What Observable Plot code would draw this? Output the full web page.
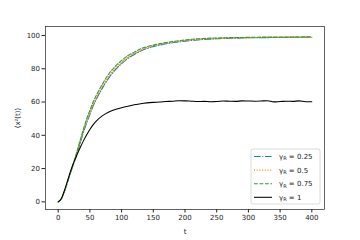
<!DOCTYPE html>
<html>
<head>
<meta charset="utf-8">
<script src="https://cdn.jsdelivr.net/npm/d3@7"></script>
<script src="https://cdn.jsdelivr.net/npm/@observablehq/plot@0.6"></script>
<style>
  html, body { margin: 0; padding: 0; background: #fff; }
  #chart svg { display: block; }
</style>
</head>
<body>
<div id="chart"></div>
<script>
const t = [0,5,10,15,20,25,30,35,40,45,50,55,60,70,80,90,100,110,120,130,140,150,160,170,180,190,200,
           210,220,230,240,250,260,270,280,290,300,310,320,330,340,350,360,370,380,390,400];
const g025 = [0,1.8,6.3,12,17.8,23.5,29,35.5,42,47.5,52.5,57.5,61.5,68.5,74.5,79.3,83,86.2,88.6,90.6,92.2,93.3,94.2,95,95.6,96.1,96.6,
              97,97.3,97.6,97.8,98,98.2,98.3,98.4,98.5,98.6,98.6,98.7,98.7,98.8,98.8,98.8,98.9,98.9,98.9,99];
const g05  = [0,1.8,6.4,12.3,18.2,24,30,36.5,43,48.5,53.5,58.5,62.5,69.5,75.5,80.3,84,87,89.3,91.2,92.7,93.8,94.7,95.4,96,96.5,97,
              97.4,97.7,97.9,98.1,98.3,98.4,98.5,98.6,98.7,98.7,98.8,98.8,98.9,98.9,99,99,99,99,99,99];
const g075 = [0,1.8,6.5,12.5,18.5,24.5,31,37.5,44,50,55,60,64,71,77,81.5,85,88,90,92,93.3,94.2,95.1,95.8,96.4,96.9,97.3,
              97.7,98,98.2,98.4,98.5,98.6,98.7,98.8,98.8,98.9,98.9,99,99,99,99.1,99.1,99.1,99.1,99.2,99.2];
const g1   = [0,2,7,13,19,24,28.6,32.8,36.8,40.3,43.5,46.3,48.5,51.8,54,55.5,56.6,57.5,58.3,59,59.5,59.8,60,60.3,60.5,60.8,60.7,
              60.5,60.3,60.4,60.2,60.3,60.6,60.5,60.4,60.7,60.6,60.5,60.6,60.8,60.1,60.3,60.5,60.4,60.7,60.2,60.2];
const seriesLabels = ["0.25", "0.5", "0.75", "1"];
const seriesValues = [g025, g05, g075, g1];
const xTicks = [0,50,100,150,200,250,300,350,400];
const yTicks = [0,20,40,60,80,100];

const colors = ["#1f77b4", "#ff7f0e", "#2ca02c", "#000000"];
const dashes = ["6.6,1.7,1,1.7", "1,1.7", "3.8,1.7", null];

const data = seriesLabels.flatMap((s, i) => t.map((tt, j) => ({t: tt, v: seriesValues[i][j], s})));

const W = 360, H = 240;
const mL = 45, mR = 36, mT = 26, mB = 31;

const chart = Plot.plot({
  width: W, height: H,
  marginLeft: mL, marginRight: mR, marginTop: mT, marginBottom: mB,
  style: {fontFamily: "DejaVu Sans", fontSize: "7px", color: "#222", background: "#fff"},
  x: {domain: [-20, 420], ticks: xTicks},
  y: {domain: [-4.6, 105.4], ticks: yTicks},
  marks: [
    ...seriesLabels.map((s, i) => Plot.line(data.filter(d => d.s === s), {
      x: "t", y: "v", stroke: colors[i], strokeWidth: 1.05,
      strokeDasharray: dashes[i] ?? undefined, curve: "monotone-x"
    })),
    Plot.frame({stroke: "#222", strokeWidth: 0.7}),
    Plot.axisX({ticks: xTicks, tickSize: 3.5, tickPadding: 2, label: "t", labelAnchor: "center", labelArrow: "none", labelOffset: 24}),
    Plot.axisY({ticks: yTicks, tickSize: 3.5, tickPadding: 2, label: "⟨x²(t)⟩", labelAnchor: "center", labelArrow: "none", labelOffset: 30})
  ]
});
document.getElementById("chart").appendChild(chart);

// Legend (lower right, inside axes)
const svg = d3.select(chart);
const lw = 69, lh = 55;
const lx = W - mR - 4 - lw, ly = H - mB - 5 - lh;
const lg = svg.append("g").attr("font-family", "DejaVu Sans").attr("font-size", 7)
  .attr("fill", "#222").attr("text-anchor", "start");
lg.append("rect").attr("x", lx).attr("y", ly).attr("width", lw).attr("height", lh)
  .attr("rx", 2).attr("fill", "#fff").attr("fill-opacity", 0.8).attr("stroke", "#ccc").attr("stroke-width", 0.7);
seriesLabels.forEach((s, i) => {
  const y = ly + 7.5 + i * 13.6;
  lg.append("line").attr("x1", lx + 3).attr("x2", lx + 21).attr("y1", y).attr("y2", y)
    .attr("stroke", colors[i]).attr("stroke-width", 1.05)
    .attr("stroke-dasharray", dashes[i]);
  const tx = lg.append("text").attr("x", lx + 28).attr("y", y).attr("dy", "0.35em")
    .attr("text-anchor", "start");
  tx.append("tspan").text("γ");
  tx.append("tspan").attr("font-size", 5).attr("dy", "1.5").text("R");
  tx.append("tspan").attr("dy", "-1.5").text(" = " + s);
});
</script>
</body>
</html>
